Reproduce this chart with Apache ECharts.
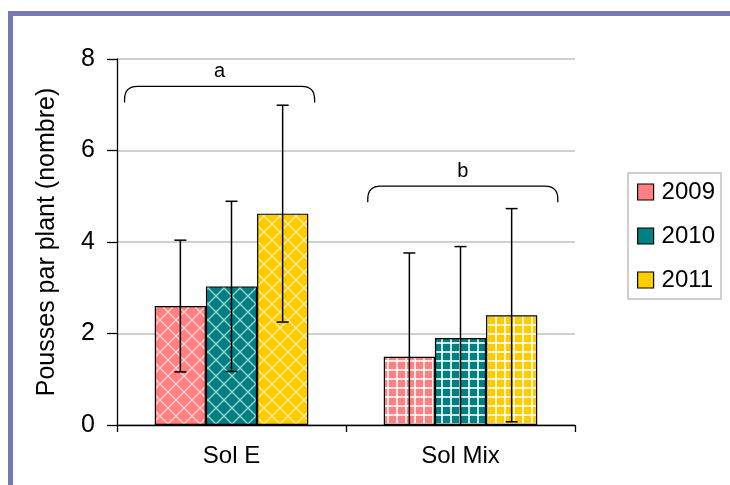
<!DOCTYPE html>
<html>
<head>
<meta charset="utf-8">
<script src="https://cdn.jsdelivr.net/npm/echarts@6/dist/echarts.min.js"></script>
<style>
  html, body { margin: 0; padding: 0; background: #fff; }
  #chart { width: 730px; height: 485px; }
  #frame { position: absolute; left: 8px; top: 11px; width: 730px; height: 480px;
           border-left: 5px solid #7878b4; border-top: 5px solid #7878b4; pointer-events: none; }
</style>
</head>
<body>
<div id="chart"></div>
<div id="frame"></div>
<script>
// data
var categories = ["Sol E", "Sol Mix"];
var years = ["2009", "2010", "2011"];
var colors = ["#ff8080", "#008080", "#ffcc00"];
var mean2009 = [2.6, 1.49];
var mean2010 = [3.03, 1.9];
var mean2011 = [4.62, 2.4];
var sd2009 = [1.44, 2.27];
var sd2010 = [1.86, 2.0];
var sd2011 = [2.37, 2.33];
var groupLetters = ["a", "b"];
var bracketLevels = [7.4, 5.22];

var means = [mean2009, mean2010, mean2011];
var sds = [sd2009, sd2010, sd2011];
var GAP = 0.33;

function diamondPattern(color) {
    var c = document.createElement("canvas");
    c.width = 16; c.height = 16;
    var ctx = c.getContext("2d");
    ctx.fillStyle = color;
    ctx.fillRect(0, 0, 16, 16);
    ctx.strokeStyle = "rgba(255,255,255,0.65)";
    ctx.lineWidth = 1.3;
    ctx.beginPath();
    ctx.moveTo(0, 0); ctx.lineTo(16, 16);
    ctx.moveTo(16, 0); ctx.lineTo(0, 16);
    ctx.stroke();
    return { image: c, repeat: "repeat" };
}

function gridPattern(color) {
    var c = document.createElement("canvas");
    c.width = 9; c.height = 9;
    var ctx = c.getContext("2d");
    ctx.fillStyle = color;
    ctx.fillRect(0, 0, 9, 9);
    ctx.fillStyle = "rgba(255,255,255,0.8)";
    ctx.fillRect(0, 0, 9, 2);
    ctx.fillRect(0, 0, 2, 9);
    return { image: c, repeat: "repeat" };
}

var chart = echarts.init(document.getElementById("chart"));

var series = [];
years.forEach(function (y, k) {
    series.push({
        name: y,
        type: "bar",
        barGap: "0%",
        barCategoryGap: (GAP * 100) + "%",
        data: means[k].map(function (v, i) {
            return {
                value: v,
                itemStyle: {
                    color: i === 0 ? diamondPattern(colors[k]) : gridPattern(colors[k]),
                    borderColor: "#000",
                    borderWidth: 1.2
                }
            };
        })
    });
});

years.forEach(function (y, k) {
    series.push({
        name: "err" + y,
        type: "custom",
        z: 5,
        clip: false,
        encode: { x: 0, y: 1 },
        data: means[k].map(function (v, i) { return [i, v, sds[k][i]]; }),
        renderItem: function (params, api) {
            var cat = api.value(0), m = api.value(1), s = api.value(2);
            var band = api.size([1, 0])[0];
            var barW = band * (1 - GAP) / 3;
            var x = api.coord([cat, m])[0] + (k - 1) * barW;
            var lowVal = m - s;
            var top = api.coord([cat, m + s])[1];
            var bot = api.coord([cat, Math.max(lowVal, 0)])[1];
            var st = { stroke: "#000", lineWidth: 1.5 };
            var kids = [
                { type: "line", shape: { x1: x, y1: top, x2: x, y2: bot }, style: st },
                { type: "line", shape: { x1: x - 6, y1: top, x2: x + 6, y2: top }, style: st }
            ];
            if (lowVal >= 0) {
                kids.push({ type: "line", shape: { x1: x - 6, y1: bot, x2: x + 6, y2: bot }, style: st });
            }
            return { type: "group", children: kids };
        }
    });
});

// brackets are not quite centred on the groups in the original
var bracketShift = [-0.052, 0.01];

series.push({
    name: "brackets",
    type: "custom",
    z: 6,
    clip: false,
    encode: { x: 0, y: 1 },
    data: categories.map(function (c, i) { return [i, bracketLevels[i]]; }),
    renderItem: function (params, api) {
        var cat = api.value(0), lvl = api.value(1);
        var band = api.size([1, 0])[0];
        var p = api.coord([cat, lvl]);
        var cx = p[0] + bracketShift[params.dataIndex] * band;
        var half = band * 0.415;
        var x0 = cx - half, x1 = cx + half, yt = p[1], r = 13, drop = 16;
        var d = "M" + x0 + " " + (yt + drop) +
            " L" + x0 + " " + (yt + r) +
            " Q" + x0 + " " + yt + " " + (x0 + r) + " " + yt +
            " L" + (x1 - r) + " " + yt +
            " Q" + x1 + " " + yt + " " + x1 + " " + (yt + r) +
            " L" + x1 + " " + (yt + drop);
        return {
            type: "group",
            children: [
                { type: "path", shape: { pathData: d }, style: { stroke: "#000", lineWidth: 1.3, fill: null } },
                { type: "text", style: { text: groupLetters[params.dataIndex], x: cx, y: yt - 5,
                    align: "center", verticalAlign: "bottom", fontSize: 20, fill: "#000",
                    fontFamily: "Liberation Sans" } }
            ]
        };
    }
});

chart.setOption({
    animation: false,
    textStyle: { fontFamily: "Liberation Sans" },
    grid: { left: 117, right: 155, top: 59, bottom: 60 },
    legend: {
        orient: "vertical",
        left: 628,
        top: 173,
        padding: [7, 6, 7, 9],
        borderColor: "#c0c0c0",
        borderWidth: 1.5,
        itemWidth: 16,
        itemHeight: 16,
        itemGap: 20,
        icon: "rect",
        textStyle: { fontSize: 24, color: "#000", lineHeight: 24, padding: [0, 0, 0, 3] },
        data: years.map(function (y, k) {
            return { name: y, itemStyle: { color: colors[k], borderColor: "#000", borderWidth: 1.2 } };
        })
    },
    xAxis: {
        type: "category",
        data: categories,
        axisLine: { lineStyle: { color: "#000", width: 1.3 } },
        axisTick: { show: true, length: 7, lineStyle: { color: "#000", width: 1.3 } },
        axisLabel: { fontSize: 24, color: "#000", margin: 19 }
    },
    yAxis: {
        type: "value",
        min: 0,
        max: 8,
        interval: 2,
        name: "Pousses par plant (nombre)",
        nameLocation: "middle",
        nameGap: 57,
        nameTextStyle: { fontSize: 25, color: "#000" },
        axisLine: { show: true, lineStyle: { color: "#000", width: 1.3 } },
        axisTick: { show: true, length: 10, lineStyle: { color: "#000", width: 1.3 } },
        axisLabel: { fontSize: 25, color: "#000", margin: 22 },
        splitLine: { lineStyle: { color: "#c0c0c0", width: 1.5 } }
    },
    series: series
});
</script>
</body>
</html>
